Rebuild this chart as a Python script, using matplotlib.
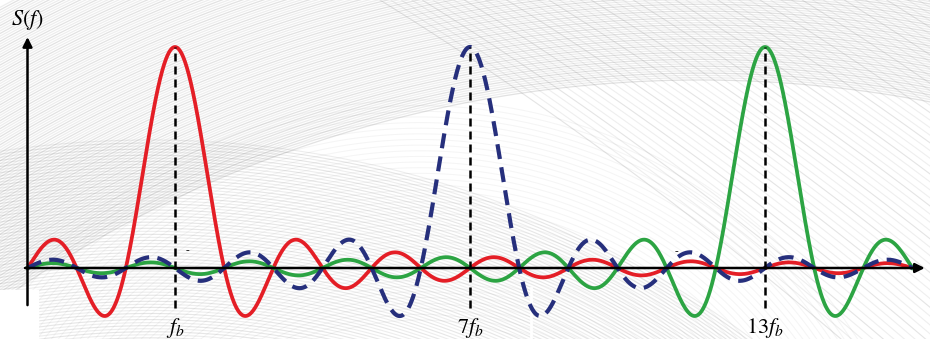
import numpy as np
import matplotlib
matplotlib.use("Agg")
import matplotlib.pyplot as plt

# subcarrier spectra: S(f) = sinc((f - k*fb) / fb), fb = 1
centers = [1, 7, 13]
tick_labels = [r"$f_b$", r"$7f_b$", r"$13f_b$"]
amplitudes = [1.0, 1.0, 1.0]
f_start, f_stop = -2, 16

curve_colors = ["#e41e26", "#262f7c", "#2ca443"]
curve_styles = ["solid", "dashed", "solid"]

plt.rcParams["mathtext.fontset"] = "stix"
plt.rcParams["font.family"] = ["Liberation Serif", "DejaVu Serif"]

fig = plt.figure(figsize=(9.3, 3.39), dpi=100)

# --- faint grey texture behind the chart (pixel coords) ---
bg = fig.add_axes([0, 0, 1, 1])
bg.set_xlim(0, 930)
bg.set_ylim(339, 0)
bg.axis("off")

t = np.linspace(0, 2 * np.pi, 2000)
for i, r in enumerate(np.linspace(1220, 1470, 110)):
    cx, cy = 700, 1300
    bg.plot(cx + r * np.cos(t), cy + r * np.sin(t), color="#6e6e6e",
            lw=0.9, alpha=0.12 + 0.08 * (i % 3 == 0))
for i, r in enumerate(np.linspace(800, 1010, 70)):
    cx, cy = 150, 1150
    bg.plot(cx + r * np.cos(t), cy + r * np.sin(t), color="#6e6e6e",
            lw=0.8, alpha=0.12 + 0.05 * (i % 2 == 0))
for i, r in enumerate(np.linspace(300, 520, 40)):
    cx, cy = 420, 620
    bg.plot(cx + r * np.cos(t), cy + r * np.sin(t), color="#7a7a7a",
            lw=0.7, alpha=0.08)
for i, x0 in enumerate(np.linspace(380, 950, 55)):
    xs = np.linspace(x0, x0 + 520, 50)
    ys = (xs - x0) * 0.62 + 0.00025 * (xs - x0) ** 2
    bg.plot(xs, ys, color="#7a7a7a", lw=0.8, alpha=0.12 + 0.08 * (i % 4 == 0))
bg.fill_between([0, 38], 290, 339, color="white", zorder=3)
bg.plot([531, 531], [288, 339], color="white", lw=2, zorder=3)

# --- chart ---
ax = fig.add_axes([0, 0, 1, 1])
ax.patch.set_alpha(0)
unit = 295 / 6
ax.set_xlim(1 - 175 / unit, 1 + (930 - 175) / unit)
ax.set_ylim(-(339 - 268) / 221, 268 / 221)
ax.axis("off")

f = np.linspace(f_start, f_stop, 3000)
for c, a, col, ls in zip(centers, amplitudes, curve_colors, curve_styles):
    s = a * np.sinc(f - c)
    if ls == "dashed":
        ax.plot(f, s, color=col, lw=3.0, dashes=(3.6, 2.0), zorder=4,
                dash_capstyle="butt")
    else:
        ax.plot(f, s, color=col, lw=2.7, zorder=3)

# axes with arrows
ax.annotate("", xy=(16.25, 0), xytext=(-2.05, 0),
            arrowprops=dict(arrowstyle="-|>", color="black", lw=1.8,
                            mutation_scale=14, shrinkA=0, shrinkB=0), zorder=5)
ax.annotate("", xy=(f_start, 1.045), xytext=(f_start, -0.168),
            arrowprops=dict(arrowstyle="-|>", color="black", lw=1.8,
                            mutation_scale=14, shrinkA=0, shrinkB=0), zorder=5)

# dashed markers at carrier centres
ax.vlines(centers, -0.18, amplitudes, colors="black", lw=1.8,
          linestyles=(0, (3.2, 2.0)), zorder=6)

for c, lab in zip(centers, tick_labels):
    ax.text(c, -0.27, lab, ha="center", va="center", fontsize=16)

ax.text(f_start, 1.12, r"$S(f)$", ha="center", va="center", fontsize=16)

# small stray marks from the original figure
ax.text(1.25, 0.08, "-", ha="center", va="center", fontsize=8)
ax.text(11.2, 0.075, "-", ha="center", va="center", fontsize=8)

fig.savefig("out.png", dpi=100, facecolor="white")
